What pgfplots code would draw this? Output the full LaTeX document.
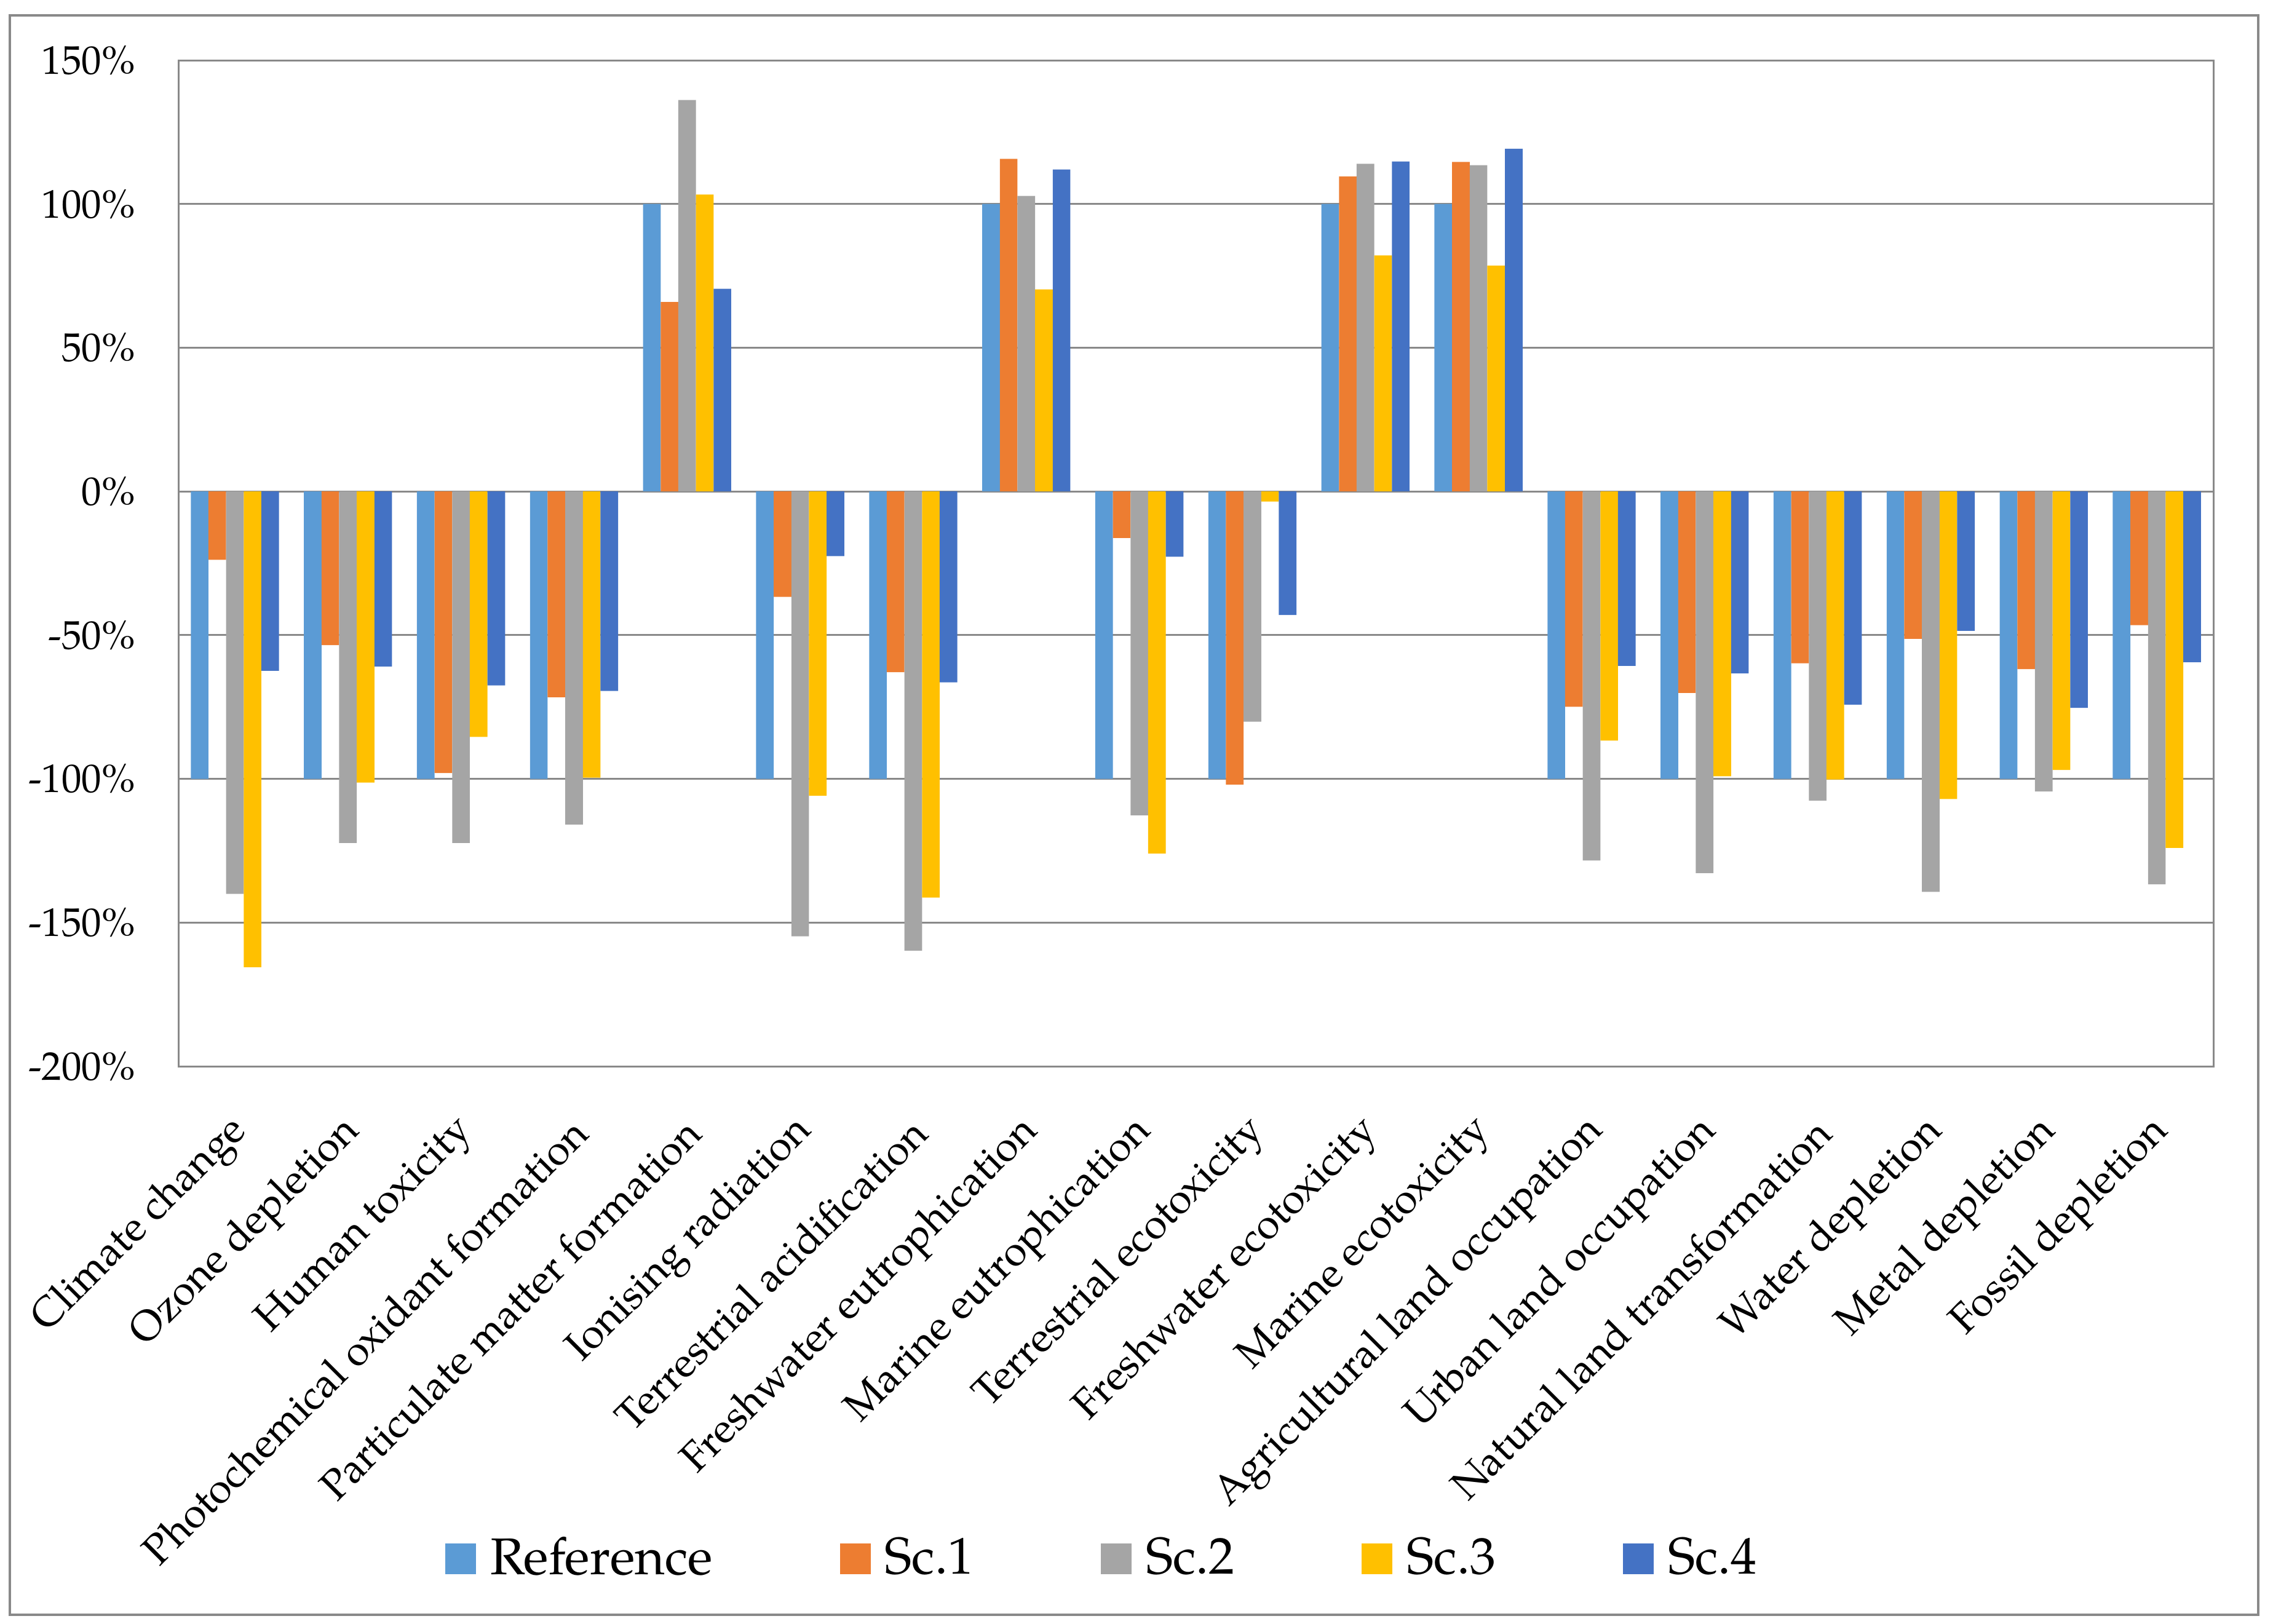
\documentclass[border=0pt]{standalone}
\usepackage{fontspec}
\setmainfont{TeX Gyre Pagella}
\usepackage{pgfplots}
\usepackage{pgfplotstable}
\pgfplotsset{compat=1.18}
\definecolor{cRef}{HTML}{5B9BD5}
\definecolor{cS1}{HTML}{ED7D31}
\definecolor{cS2}{HTML}{A5A5A5}
\definecolor{cS3}{HTML}{FFC000}
\definecolor{cS4}{HTML}{4472C4}
\definecolor{gridgray}{HTML}{898989}

\pgfplotstableread{
x ref s1 s2 s3 s4
0 -100 -23.8 -140.0 -165.5 -62.4
1 -100 -53.5 -122.3 -101.3 -60.9
2 -100 -98.0 -122.3 -85.4 -67.5
3 -100 -71.6 -115.9 -99.6 -69.4
4 100 65.9 136.2 103.3 70.5
5 -100 -36.7 -154.8 -105.9 -22.5
6 -100 -62.9 -159.8 -141.3 -66.4
7 100 115.7 102.8 70.3 112.0
8 -100 -16.2 -112.7 -126.0 -22.7
9 -100 -102.0 -80.1 -3.5 -43.0
10 100 109.6 114.0 82.1 114.8
11 100 114.6 113.5 78.6 119.2
12 -100 -74.9 -128.4 -86.7 -60.7
13 -100 -70.1 -132.8 -99.1 -63.3
14 -100 -59.8 -107.6 -100.2 -74.2
15 -100 -51.3 -139.3 -107.0 -48.5
16 -100 -61.8 -104.4 -96.9 -75.3
17 -100 -46.5 -136.7 -124.0 -59.4
}\data

\pgfplotsset{sqleg/.style={legend image code/.code={\fill[##1] (0pt,-3.75pt) rectangle (7.5pt,3.75pt);}}}

\begin{document}
\begin{tikzpicture}
\useasboundingbox (0,0) rectangle (554.4pt,-396.15pt);
\draw[gridgray, line width=0.6pt] (2.4pt,-3.75pt) rectangle (550.8pt,-393.9pt);
\begin{axis}[
  at={(43.5pt,-260.1pt)}, anchor=south west,
  scale only axis, width=496.35pt, height=245.4pt,
  xmin=-0.5, xmax=17.5, ymin=-200, ymax=150,
  ybar=0pt, bar width=4.3pt,
  xtick={0,...,17},
  xticklabels={Climate change, Ozone depletion, Human toxicity, Photochemical oxidant formation, Particulate matter formation, Ionising radiation, Terrestrial acidification, Freshwater eutrophication, Marine eutrophication, Terrestrial ecotoxicity, Freshwater ecotoxicity, Marine ecotoxicity, Agricultural land occupation, Urban land occupation, Natural land transformation, Water depletion, Metal depletion, Fossil depletion},
  ytick={-200,-150,-100,-50,0,50,100,150},
  yticklabels={-200\%,-150\%,-100\%,-50\%,0\%,50\%,100\%,150\%},
  ymajorgrids, grid style={gridgray, line width=0.45pt},
  axis line style={gridgray, line width=0.45pt},
  major tick length=0pt,
  yticklabel style={font=\fontsize{9.75}{11}\selectfont, xshift=-7pt},
  xticklabel style={font=\fontsize{10.1}{12}\selectfont, xshift=4pt, rotate=45, anchor=east},
  xticklabel shift=12pt,
  legend columns=5,
  legend style={draw=none, at={(0.4554,-0.4896)}, anchor=center,
    font=\fontsize{12.6}{14}\selectfont,
    /tikz/every odd column/.append style={column sep=1.5pt},
    /tikz/every even column/.append style={column sep=29pt}},
]
\addplot[fill=cRef, draw=none, sqleg] table[x=x,y=ref]{\data};
\addplot[fill=cS1, draw=none, sqleg] table[x=x,y=s1]{\data};
\addplot[fill=cS2, draw=none, sqleg] table[x=x,y=s2]{\data};
\addplot[fill=cS3, draw=none, sqleg] table[x=x,y=s3]{\data};
\addplot[fill=cS4, draw=none, sqleg] table[x=x,y=s4]{\data};
\legend{Reference, Sc.1, Sc.2, Sc.3, Sc.4}
\end{axis}
\end{tikzpicture}
\end{document}
